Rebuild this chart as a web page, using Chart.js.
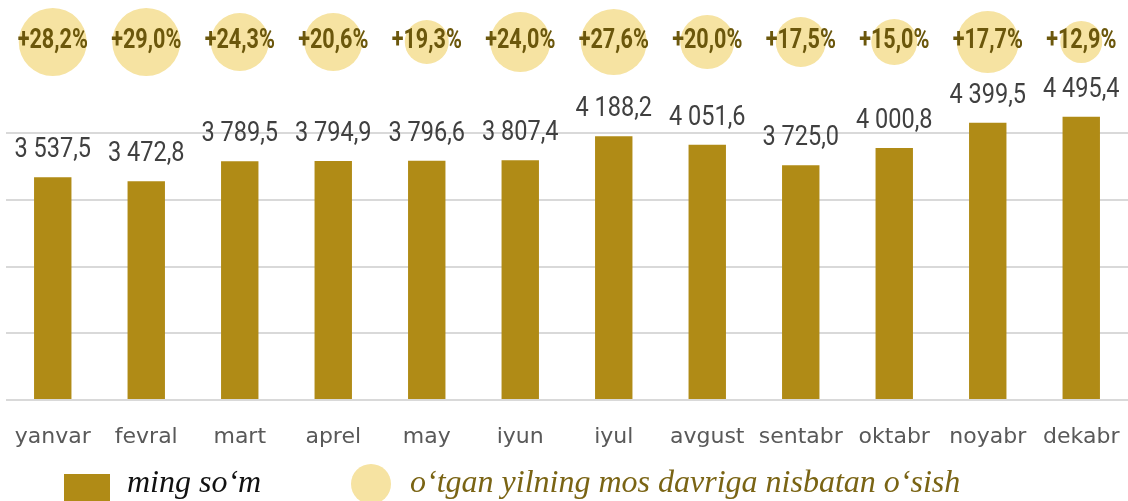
<!DOCTYPE html>
<html>
<head>
<meta charset="utf-8">
<script src="https://cdn.jsdelivr.net/npm/chart.js@4/dist/chart.umd.min.js"></script>
<style>
    html, body { margin: 0; padding: 0; background: #fff; }
    #wrap { position: relative; width: 1128px; height: 501px; overflow: hidden; }
    #chart { position: absolute; left: 0; top: 0; }
    .legend-box { position: absolute; left: 64px; top: 474px; width: 46px; height: 27px; background: #b08b16; }
    .legend-dot { position: absolute; left: 351px; top: 464px; width: 40px; height: 40px; border-radius: 50%; background: #f6e3a2; }
    .legend-text { position: absolute; top: 465px; font: italic 32px/32px 'Liberation Serif', serif; white-space: nowrap; }
</style>
</head>
<body>
<div id="wrap">
    <canvas id="chart" width="1128" height="501"></canvas>
    <div class="legend-box"></div>
    <div class="legend-text" style="left:127px; color:#111;">ming so‘m</div>
    <div class="legend-dot"></div>
    <div class="legend-text" style="left:410px; color:#7a6414;">o‘tgan yilning mos davriga nisbatan o‘sish</div>
</div>
<script>
// Data
const months = ['yanvar', 'fevral', 'mart', 'aprel', 'may', 'iyun', 'iyul', 'avgust', 'sentabr', 'oktabr', 'noyabr', 'dekabr'];
const wages = [3537.5, 3472.8, 3789.5, 3794.9, 3796.6, 3807.4, 4188.2, 4051.6, 3725.0, 4000.8, 4399.5, 4495.4];
const growth = [28.2, 29.0, 24.3, 20.6, 19.3, 24.0, 27.6, 20.0, 17.5, 15.0, 17.7, 12.9];
const bubbleRadius = [34, 34, 29, 29, 22, 30, 33, 27, 25, 23, 31, 21];
const yMin = 0;
const yGridMax = 5000;   // last gridline
const yStep = 1000;

// the plot area runs up to the top of the canvas so the bubble row fits in it
const Y_AXIS_TOP = 6350;
const BUBBLE_ROW = 0.895; // on the hidden 0..1 axis

const BAR_COLOR = '#b08b16';
const BUBBLE_COLOR = '#f6e3a2';

function formatWage(v) {
    const parts = v.toFixed(1).split('.');
    const intPart = parts[0].replace(/\B(?=(\d{3})+(?!\d))/g, ' ');
    return intPart + ',' + parts[1];
}

function formatGrowth(v) {
    return '+' + v.toFixed(1).replace('.', ',') + '%';
}

// condensed text: squeeze horizontally
function drawCondensed(ctx, text, x, y, squeeze) {
    ctx.save();
    ctx.translate(x, y);
    ctx.scale(squeeze, 1);
    ctx.fillText(text, 0, 0);
    ctx.restore();
}

const labelPlugin = {
    id: 'labelPlugin',
    afterDatasetsDraw(chart) {
        const ctx = chart.ctx;
        ctx.save();
        ctx.textAlign = 'center';
        ctx.textBaseline = 'alphabetic';

        // values above bars
        const barMeta = chart.getDatasetMeta(0);
        ctx.fillStyle = '#404040';
        ctx.font = "28px Roboto, sans-serif";
        barMeta.data.forEach((bar, i) => {
            drawCondensed(ctx, formatWage(wages[i]), bar.x, bar.y - 20, 0.84);
        });

        // growth inside bubbles
        const bubbleMeta = chart.getDatasetMeta(1);
        ctx.fillStyle = '#6b570c';
        ctx.font = "bold 27px Roboto, sans-serif";
        bubbleMeta.data.forEach((pt, i) => {
            drawCondensed(ctx, formatGrowth(growth[i]), pt.x, pt.y + 6, 0.8);
        });
        ctx.restore();
    }
};

const ctx = document.getElementById('chart').getContext('2d');

new Chart(ctx, {
    type: 'bar',
    data: {
        labels: months,
        datasets: [
            {
                label: 'ming so‘m',
                data: wages,
                backgroundColor: BAR_COLOR,
                barPercentage: 0.4,
                categoryPercentage: 1.0,
                yAxisID: 'y',
                order: 2
            },
            {
                type: 'bubble',
                label: 'o‘tgan yilning mos davriga nisbatan o‘sish',
                data: months.map((m, i) => ({ x: m, y: BUBBLE_ROW, r: bubbleRadius[i] })),
                backgroundColor: BUBBLE_COLOR,
                borderWidth: 0,
                hoverRadius: 0,
                yAxisID: 'yRow',
                clip: false,
                order: 1
            }
        ]
    },
    options: {
        responsive: false,
        animation: false,
        layout: {
            autoPadding: false,
            padding: { left: 6, right: 0, top: 0, bottom: 41 }
        },
        plugins: {
            legend: { display: false },
            tooltip: { enabled: false }
        },
        scales: {
            x: {
                grid: { display: false },
                border: { display: false },
                ticks: {
                    color: '#595959',
                    padding: 16,
                    maxRotation: 0,
                    minRotation: 0,
                    autoSkip: false,
                    font: { family: "'DejaVu Sans', sans-serif", size: 22 }
                },
                afterFit(axis) {
                    axis.height = 60;
                    axis.paddingLeft = 0;
                    axis.paddingRight = 0;
                }
            },
            y: {
                min: yMin,
                max: Y_AXIS_TOP,
                ticks: { display: false, stepSize: yStep },
                grid: { color: '#d9d9d9', lineWidth: 2, drawTicks: false },
                border: { display: false },
                afterFit(axis) {
                    axis.width = 0;
                    axis.paddingTop = 0;
                    axis.paddingBottom = 0;
                },
                afterBuildTicks(axis) {
                    axis.ticks = axis.ticks.filter(t => t.value <= yGridMax);
                }
            },
            yRow: {
                display: false,
                min: 0,
                max: 1
            }
        }
    },
    plugins: [labelPlugin]
});
</script>
</body>
</html>
